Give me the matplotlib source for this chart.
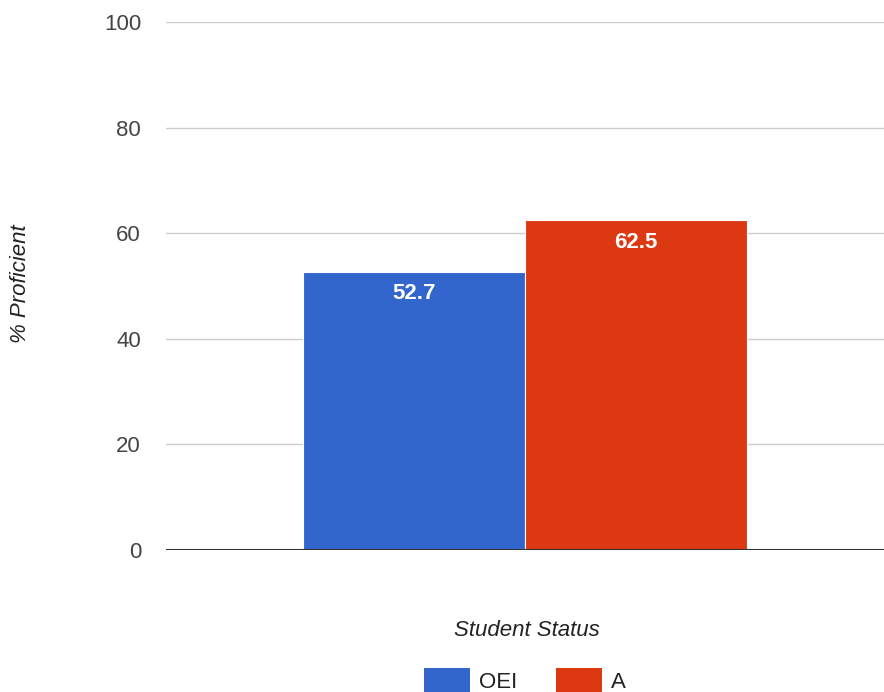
import matplotlib.pyplot as plt
from matplotlib.patches import Patch

categories = ['OEI', 'A']
values = [52.7, 62.5]
colors = ['#3366cc', '#dc3912']
yticks = [0, 20, 40, 60, 80, 100]

plt.rcParams['font.family'] = ['Liberation Sans', 'DejaVu Sans']

fig = plt.figure(figsize=(8.84, 6.92), dpi=100)
ax = fig.add_axes([0.1878, 0.2052, 0.8122, 0.7630])

x = [-0.5, 0.5]
bars = ax.bar(x, values, width=1.0, color=colors, edgecolor='white', linewidth=0.8, zorder=3)
for b, v in zip(bars, values):
    ax.text(b.get_x() + b.get_width() / 2, v - 2.2, '{:.1f}'.format(v), ha='center', va='top',
            color='white', fontsize=16, fontweight='bold', zorder=4)

ax.set_xlim(-1.617, 1.617)
ax.set_ylim(0, 100)
ax.set_yticks(yticks)
ax.set_xticks([])
ax.grid(axis='y', color='#cccccc', linewidth=1, zorder=0)
ax.axhline(0, color='#333333', linewidth=1.5, zorder=5)
for s in ax.spines.values():
    s.set_visible(False)
ax.tick_params(axis='y', length=0, pad=18, labelsize=16, labelcolor='#444444')

fig.text(0.023, 0.59, '% Proficient', rotation=90, ha='center', va='center',
         fontsize=16, style='italic', color='#222222')
fig.text(0.596, 0.089, 'Student Status', ha='center', va='center',
         fontsize=16, style='italic', color='#222222')

handles = [Patch(facecolor=c, edgecolor='none') for c in colors]
fig.legend(handles, categories, loc='lower center', bbox_to_anchor=(0.594, -0.03), ncol=2,
           frameon=False, fontsize=16, handlelength=2.07, handleheight=1.3,
           columnspacing=1.75, handletextpad=0.4, labelcolor='#222222')

plt.savefig('out.png', dpi=100)
